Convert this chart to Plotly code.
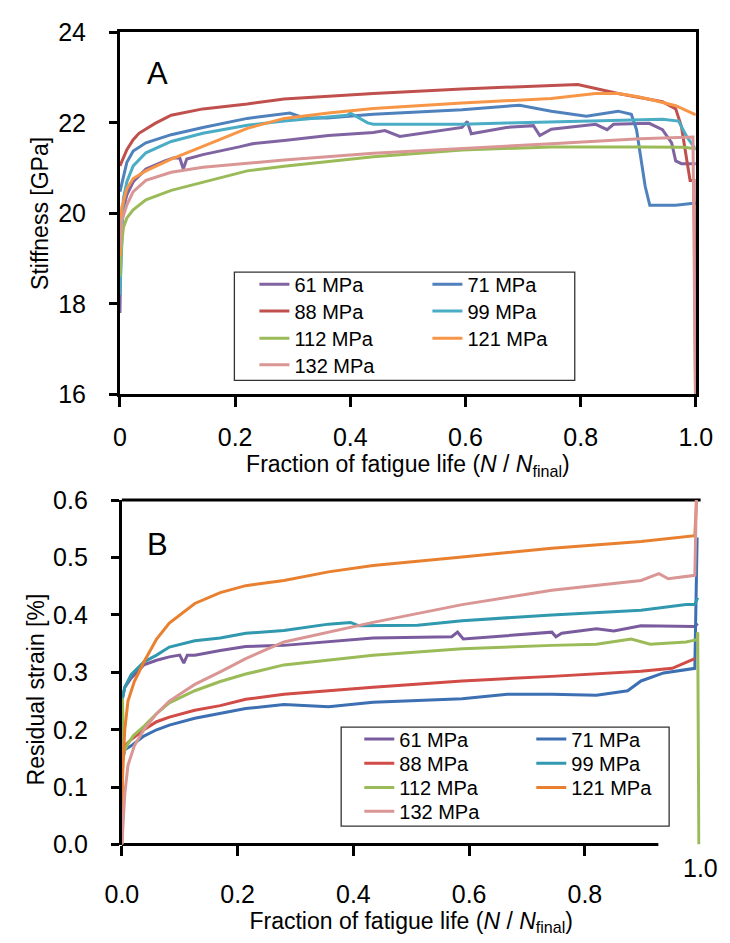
import plotly.graph_objects as go

W, H = 730, 943
FONT = "Liberation Sans, Arial, Helvetica, sans-serif"

labels = ["61 MPa", "71 MPa", "88 MPa", "99 MPa", "112 MPa", "121 MPa", "132 MPa"]
colors_a = ["#8064A2", "#4F81BD", "#C0504D", "#4BACC6", "#9BBB59", "#F79646", "#D99694"]
colors_b = ["#7A5C9E", "#3D6FB3", "#D14B47", "#3099B0", "#9BBB59", "#E8802F", "#D99694"]

# ---------------- Panel A: stiffness [GPa] vs N/Nfinal ----------------
a61_x = [0, 0.002, 0.006, 0.012, 0.023, 0.045, 0.078, 0.094, 0.104, 0.110, 0.116, 0.144, 0.207, 0.23, 0.285, 0.362,
         0.44, 0.46, 0.486, 0.517, 0.594, 0.603, 0.61, 0.671, 0.718, 0.729, 0.749, 0.826, 0.846, 0.857, 0.919,
         0.942, 0.958, 0.965, 0.975, 1.0]
a61_y = [17.8, 19.6, 20.12, 20.41, 20.7, 20.98, 21.16, 21.23, 21.22, 20.98, 21.2, 21.30, 21.47, 21.54, 21.61, 21.72,
         21.79, 21.83, 21.70, 21.76, 21.9, 22.03, 21.76, 21.9, 21.94, 21.72, 21.86, 21.97, 21.85, 21.97, 21.99,
         21.85, 21.56, 21.16, 21.10, 21.10]

a71_x = [0, 0.012, 0.023, 0.045, 0.089, 0.144, 0.221, 0.285, 0.295, 0.32, 0.36, 0.44, 0.594, 0.671, 0.694, 0.749,
         0.81, 0.865, 0.888, 0.897, 0.912, 0.92, 0.965, 1.0]
a71_y = [20.48, 21.13, 21.38, 21.56, 21.74, 21.90, 22.10, 22.19, 22.22, 22.11, 22.11, 22.19, 22.29, 22.37, 22.39,
         22.26, 22.15, 22.26, 22.19, 21.85, 20.6, 20.18, 20.18, 20.23]

a88_x = [0, 0.012, 0.023, 0.033, 0.061, 0.089, 0.144, 0.221, 0.285, 0.44, 0.594, 0.749, 0.795, 0.865, 0.942,
         0.965, 0.975, 0.984, 0.99, 0.997, 1.0]
a88_y = [21.05, 21.41, 21.63, 21.77, 21.99, 22.17, 22.31, 22.42, 22.53, 22.65, 22.75, 22.82, 22.85, 22.65, 22.47,
         22.31, 21.92, 21.2, 20.73, 20.73, 15.0]

a99_x = [0, 0.006, 0.012, 0.023, 0.045, 0.089, 0.144, 0.221, 0.285, 0.362, 0.395, 0.40, 0.43, 0.44, 0.594, 0.671,
         0.826, 0.942, 0.97, 0.984, 1.0]
a99_y = [18.2, 20.33, 20.70, 21.05, 21.34, 21.59, 21.77, 21.95, 22.04, 22.13, 22.17, 22.22, 22.0, 21.97, 21.97,
         22.0, 22.04, 22.08, 22.04, 21.70, 21.41]

a112_x = [0, 0.002, 0.006, 0.012, 0.023, 0.045, 0.089, 0.144, 0.221, 0.285, 0.44, 0.594, 0.749, 0.903, 0.98, 1.0]
a112_y = [18.6, 19.2, 19.69, 19.9, 20.08, 20.3, 20.51, 20.69, 20.94, 21.04, 21.25, 21.40, 21.47, 21.47, 21.46, 21.43]

a121_x = [0, 0.003, 0.012, 0.023, 0.045, 0.089, 0.144, 0.221, 0.285, 0.362, 0.44, 0.594, 0.749, 0.826, 0.865,
          0.90, 0.93, 0.965, 1.0]
a121_y = [19.05, 20.12, 20.55, 20.77, 20.94, 21.2, 21.48, 21.88, 22.10, 22.22, 22.32, 22.44, 22.54, 22.65, 22.65,
          22.58, 22.49, 22.38, 22.18]

a132_x = [0, 0.003, 0.012, 0.023, 0.045, 0.089, 0.144, 0.221, 0.285, 0.44, 0.594, 0.749, 0.903, 0.995, 1.0]
a132_y = [19.26, 19.83, 20.19, 20.48, 20.73, 20.91, 21.02, 21.11, 21.18, 21.33, 21.43, 21.54, 21.65, 21.69, 15.0]

# ---------------- Panel B: residual strain [%] vs N/Nfinal ----------------
b61_x = [0, 0.005, 0.016, 0.038, 0.06, 0.082, 0.1, 0.107, 0.113, 0.126, 0.17, 0.214, 0.28, 0.434, 0.57, 0.58,
         0.59, 0.666, 0.743, 0.75, 0.76, 0.82, 0.85, 0.897, 0.99, 0.995]
b61_y = [0.25, 0.274, 0.29, 0.313, 0.321, 0.327, 0.33, 0.316, 0.33, 0.33, 0.338, 0.345, 0.347, 0.36, 0.362, 0.37,
         0.358, 0.364, 0.37, 0.362, 0.368, 0.376, 0.372, 0.381, 0.38, 0.385]

b71_x = [0, 0.005, 0.016, 0.038, 0.06, 0.082, 0.126, 0.17, 0.214, 0.28, 0.357, 0.434, 0.588, 0.666, 0.743, 0.82,
         0.874, 0.897, 0.936, 0.99, 0.994]
b71_y = [0.14, 0.165, 0.172, 0.189, 0.2, 0.208, 0.22, 0.228, 0.237, 0.244, 0.24, 0.248, 0.254, 0.262, 0.262, 0.26,
         0.268, 0.285, 0.299, 0.307, 0.535]

b88_x = [0, 0.005, 0.016, 0.038, 0.06, 0.082, 0.126, 0.17, 0.214, 0.28, 0.434, 0.588, 0.743, 0.897, 0.951, 0.975,
         0.99]
b88_y = [0.15, 0.172, 0.183, 0.2, 0.214, 0.222, 0.234, 0.242, 0.253, 0.262, 0.274, 0.285, 0.293, 0.302, 0.307,
         0.318, 0.324]

b99_x = [0, 0.005, 0.016, 0.038, 0.06, 0.082, 0.126, 0.17, 0.214, 0.28, 0.357, 0.395, 0.41, 0.511, 0.588, 0.743,
         0.897, 0.975, 0.99, 0.995]
b99_y = [0.25, 0.274, 0.296, 0.318, 0.33, 0.344, 0.355, 0.36, 0.368, 0.373, 0.384, 0.387, 0.381, 0.382, 0.39, 0.4,
         0.408, 0.418, 0.418, 0.43]

b112_x = [0, 0.001, 0.003, 0.01, 0.02, 0.038, 0.06, 0.082, 0.126, 0.17, 0.214, 0.28, 0.434, 0.588, 0.743, 0.82,
          0.88, 0.913, 0.975, 0.994, 0.995, 0.997]
b112_y = [0.0, 0.255, 0.16, 0.175, 0.19, 0.206, 0.228, 0.247, 0.268, 0.284, 0.297, 0.313, 0.33, 0.341, 0.347, 0.349,
          0.358, 0.349, 0.353, 0.357, 0.37, 0.0]

b121_x = [0, 0.001, 0.005, 0.0105, 0.0215, 0.038, 0.06, 0.082, 0.126, 0.17, 0.214, 0.28, 0.357, 0.434, 0.588,
          0.743, 0.897, 0.99, 0.993]
b121_y = [0.0, 0.115, 0.2, 0.25, 0.284, 0.318, 0.358, 0.386, 0.42, 0.439, 0.451, 0.46, 0.475, 0.486, 0.501, 0.516,
          0.528, 0.538, 0.6]

b132_x = [0, 0.005, 0.0105, 0.0215, 0.038, 0.06, 0.082, 0.126, 0.17, 0.214, 0.28, 0.357, 0.434, 0.588, 0.743,
          0.897, 0.928, 0.944, 0.99, 0.993]
b132_y = [0.0, 0.088, 0.138, 0.172, 0.2, 0.228, 0.25, 0.279, 0.301, 0.324, 0.353, 0.37, 0.387, 0.418, 0.443, 0.46,
          0.472, 0.463, 0.469, 0.62]

a_series = [(a61_x, a61_y), (a71_x, a71_y), (a88_x, a88_y), (a99_x, a99_y),
            (a112_x, a112_y), (a121_x, a121_y), (a132_x, a132_y)]
b_series = [(b61_x, b61_y), (b71_x, b71_y), (b88_x, b88_y), (b99_x, b99_y),
            (b112_x, b112_y), (b121_x, b121_y), (b132_x, b132_y)]

a_xticks = [0, 0.2, 0.4, 0.6, 0.8, 1.0]
a_xticktext = ["0", "0.2", "0.4", "0.6", "0.8", "1.0"]
b_xticks = [0, 0.2, 0.4, 0.6, 0.8]
b_xticktext = ["0.0", "0.2", "0.4", "0.6", "0.8"]


def px(x):
    return x / W


def py(y):
    return 1 - y / H


fig = go.Figure()

# legends: one per row (two entries per row), for each panel
for i, (xs, ys) in enumerate(a_series):
    fig.add_trace(go.Scatter(x=xs, y=ys, mode="lines", name=labels[i],
                             line=dict(color=colors_a[i], width=3),
                             xaxis="x", yaxis="y",
                             legend="legend" if i // 2 == 0 else "legend%d" % (i // 2 + 1)))
for i, (xs, ys) in enumerate(b_series):
    fig.add_trace(go.Scatter(x=xs, y=ys, mode="lines", name=labels[i],
                             line=dict(color=colors_b[i], width=3),
                             xaxis="x2", yaxis="y2",
                             legend="legend%d" % (i // 2 + 5)))

tickfont = dict(family=FONT, size=25, color="black")
titlefont = dict(family=FONT, size=23, color="black")
xtitle = "Fraction of fatigue life (<i>N</i> / <i>N</i><sub>final</sub>)"

axis_common = dict(showgrid=False, zeroline=False, ticks="outside", tickwidth=3, tickcolor="black",
                   linecolor="black", linewidth=3, tickfont=tickfont)

layout = dict(
    width=W, height=H, margin=dict(l=0, r=0, t=0, b=0),
    paper_bgcolor="white", plot_bgcolor="white",
    font=dict(family=FONT, color="black"),
    showlegend=True,
    xaxis=dict(domain=[px(108), px(712)], range=[0, 1.0], anchor="y", showline=True, mirror=True,
               tickvals=a_xticks, ticktext=a_xticktext, ticklen=10, ticklabelstandoff=9,
               title=dict(text=xtitle, font=titlefont, standoff=6), **axis_common),
    yaxis=dict(domain=[py(392), py(19)], range=[16, 24], anchor="x", showline=True, mirror=True,
               dtick=2, ticklen=8, ticklabelstandoff=18,
               title=dict(text="Stiffness [GPa]", font=titlefont, standoff=4), **axis_common),
    xaxis2=dict(domain=[px(110), px(717)], range=[0, 1.0], anchor="y2", showline=False,
                tickvals=b_xticks, ticktext=b_xticktext, ticklen=10, ticklabelstandoff=17,
                title=dict(text=xtitle, font=titlefont, standoff=5), **axis_common),
    yaxis2=dict(domain=[py(856), py(501)], range=[0, 0.6], anchor="x2", showline=True,
                dtick=0.1, tickformat=".1f", ticklen=8, ticklabelstandoff=18, **axis_common),
)

# legend rows
a_rows = [278, 305.5, 333.5, 361]
b_rows = [746.5, 771.5, 796.5, 821]
leg_font = dict(family=FONT, size=20, color="black")
for r, yc in enumerate(a_rows):
    key = "legend" if r == 0 else "legend%d" % (r + 1)
    layout[key] = dict(orientation="h", x=px(249), y=py(yc - 19.5), xanchor="left", yanchor="top",
                       bgcolor="rgba(0,0,0,0)", borderwidth=0, font=leg_font,
                       entrywidth=128, entrywidthmode="pixels", itemclick=False, itemdoubleclick=False)
for r, yc in enumerate(b_rows):
    key = "legend%d" % (r + 5)
    layout[key] = dict(orientation="h", x=px(359), y=py(yc - 19.5), xanchor="left", yanchor="top",
                       bgcolor="rgba(0,0,0,0)", borderwidth=0, font=leg_font,
                       entrywidth=127, entrywidthmode="pixels", itemclick=False, itemdoubleclick=False)

fig.update_layout(**layout)

# legend frames and partial borders of panel B
fig.add_shape(type="rect", xref="paper", yref="paper", x0=px(228), x1=px(585), y0=py(377.5), y1=py(266),
              line=dict(color="#333333", width=1.3), fillcolor="rgba(0,0,0,0)", layer="above")
fig.add_shape(type="rect", xref="paper", yref="paper", x0=px(340), x1=px(684), y0=py(837), y1=py(735),
              line=dict(color="#333333", width=1.3), fillcolor="rgba(0,0,0,0)", layer="above")
fig.add_shape(type="line", xref="x2 domain", yref="y2 domain", x0=0, x1=1, y0=1, y1=1,
              line=dict(color="black", width=3), layer="below")
fig.add_shape(type="line", xref="x2", yref="y2 domain", x0=0, x1=0.927, y0=0, y1=0,
              line=dict(color="black", width=3), layer="below")

# texts
fig.add_annotation(text="A", x=px(147), y=py(61), xref="paper", yref="paper", showarrow=False,
                   font=dict(family=FONT, size=31, color="black"), xanchor="center", yanchor="middle")
fig.add_annotation(text="B", x=px(147), y=py(547), xref="paper", yref="paper", showarrow=False,
                   font=dict(family=FONT, size=31, color="black"), xanchor="center", yanchor="middle")
fig.add_annotation(text="Residual strain [%]", x=px(20), y=py(696), xref="paper", yref="paper",
                   showarrow=False, textangle=-90, font=titlefont, xanchor="center", yanchor="middle")
fig.add_annotation(text="1.0", x=1.0, xref="x2", y=py(880), yref="paper", showarrow=False,
                   font=tickfont, xanchor="center", yanchor="middle")

fig.write_html("out.html")
